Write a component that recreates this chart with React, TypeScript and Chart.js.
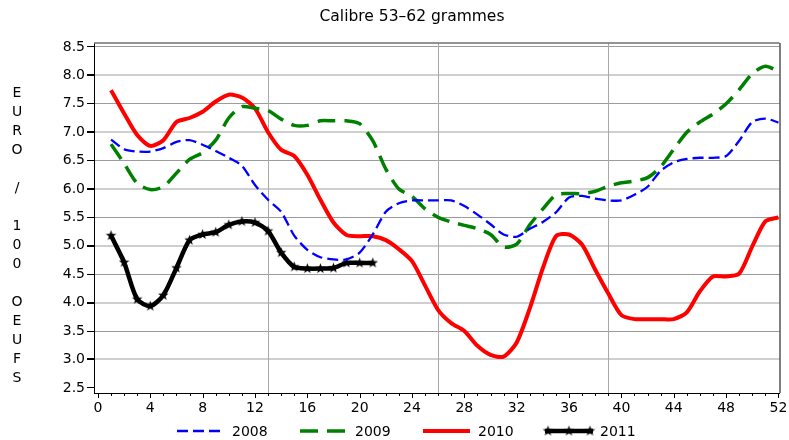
import React, { useEffect, useRef } from 'react';
import { Chart, registerables } from 'chart.js';

Chart.register(...registerables);

const TITLE = 'Calibre 53\u201362 grammes';
const Y_LABEL = ['E', 'U', 'R', 'O', '', '/', '', '1', '0', '0', '', 'O', 'E', 'U', 'F', 'S'];

const weeks = [
  1, 2, 3, 4, 5, 6, 7, 8, 9, 10, 11, 12, 13, 14, 15, 16, 17, 18, 19, 20, 21, 22, 23, 24, 25, 26,
  27, 28, 29, 30, 31, 32, 33, 34, 35, 36, 37, 38, 39, 40, 41, 42, 43, 44, 45, 46, 47, 48, 49, 50, 51, 52,
];

const s2008 = [
  6.87, 6.7, 6.66, 6.66, 6.72, 6.83, 6.86, 6.78, 6.67, 6.55, 6.41, 6.07, 5.81, 5.6, 5.18, 4.93, 4.8, 4.76,
  4.76, 4.88, 5.2, 5.6, 5.75, 5.8, 5.8, 5.8, 5.8, 5.7, 5.55, 5.38, 5.2, 5.16, 5.3, 5.42, 5.59, 5.85, 5.88,
  5.83, 5.8, 5.8, 5.9, 6.04, 6.32, 6.47, 6.53, 6.55, 6.55, 6.58, 6.85, 7.18, 7.24, 7.17,
];
const s2009 = [
  6.79, 6.45, 6.1, 5.99, 6.04, 6.28, 6.52, 6.64, 6.86, 7.25, 7.45, 7.42, 7.38, 7.23, 7.12, 7.12, 7.2, 7.2,
  7.2, 7.15, 6.85, 6.35, 6.0, 5.87, 5.65, 5.5, 5.42, 5.36, 5.3, 5.2, 4.98, 5.03, 5.37, 5.65, 5.9, 5.92,
  5.92, 5.96, 6.05, 6.11, 6.14, 6.2, 6.39, 6.7, 7.0, 7.18, 7.32, 7.5, 7.75, 8.03, 8.16, 8.07,
];
const s2010 = [
  7.74, 7.33, 6.95, 6.76, 6.86, 7.18, 7.25, 7.36, 7.54, 7.66, 7.61, 7.42, 7.0, 6.69, 6.58, 6.25, 5.81, 5.41,
  5.19, 5.17, 5.17, 5.1, 4.94, 4.73, 4.3, 3.87, 3.64, 3.5, 3.24, 3.08, 3.05, 3.3, 3.9, 4.61, 5.17, 5.2, 5.02,
  4.58, 4.16, 3.78, 3.71, 3.71, 3.71, 3.71, 3.83, 4.2, 4.46, 4.46, 4.51, 4.99, 5.43, 5.5,
];
const s2011 = [
  5.18, 4.71, 4.06, 3.94, 4.13, 4.61, 5.1, 5.2, 5.24, 5.37, 5.43, 5.41, 5.26, 4.88, 4.63, 4.6, 4.6, 4.61,
  4.7, 4.7, 4.7,
];

const xTickLabels = [0, 4, 8, 12, 16, 20, 24, 28, 32, 36, 40, 44, 48, 52];
const xMinorTicks = [
  0, 1, 2, 3, 4, 5, 6, 7, 8, 9, 10, 11, 12, 13, 14, 15, 16, 17, 18, 19, 20, 21, 22, 23, 24, 25, 26, 27,
  28, 29, 30, 31, 32, 33, 34, 35, 36, 37, 38, 39, 40, 41, 42, 43, 44, 45, 46, 47, 48, 49, 50, 51, 52,
];
const xGridLines = [13, 26, 39];
const yTickLabels = [2.5, 3.0, 3.5, 4.0, 4.5, 5.0, 5.5, 6.0, 6.5, 7.0, 7.5, 8.0, 8.5];

const FONT = '"DejaVu Sans", sans-serif';

function makeStar(r: number, color: string): HTMLCanvasElement {
  const s = Math.ceil(r * 2 + 2);
  const c = document.createElement('canvas');
  c.width = s;
  c.height = s;
  const g = c.getContext('2d')!;
  g.fillStyle = color;
  g.beginPath();
  for (let i = 0; i < 10; i++) {
    const ang = -Math.PI / 2 + (i * Math.PI) / 5;
    const rr = i % 2 === 0 ? r : r * 0.42;
    g.lineTo(s / 2 + rr * Math.cos(ang), s / 2 + rr * Math.sin(ang));
  }
  g.closePath();
  g.fill();
  return c;
}

const series = [
  { label: '2008', data: s2008, color: '#0000ff', width: 2.3, dash: [11, 5], star: false },
  { label: '2009', data: s2009, color: '#008000', width: 3.5, dash: [18, 9], star: false },
  { label: '2010', data: s2010, color: '#ff0000', width: 4, dash: [] as number[], star: false },
  { label: '2011', data: s2011, color: '#000000', width: 4.5, dash: [] as number[], star: true },
];

export default function App() {
  const ref = useRef<HTMLCanvasElement | null>(null);

  useEffect(() => {
    if (!ref.current) return;
    const star = makeStar(5.5, '#000000');

    const decor = {
      id: 'decor',
      beforeDatasetsDraw(chart: any) {
        const { ctx, chartArea: a, scales } = chart;
        const x = scales.x;
        ctx.save();
        ctx.strokeStyle = '#a8a8a8';
        ctx.lineWidth = 1;
        for (const v of xGridLines) {
          const px = Math.round(x.getPixelForValue(v)) + 0.5;
          ctx.beginPath();
          ctx.moveTo(px, a.top);
          ctx.lineTo(px, a.bottom);
          ctx.stroke();
        }
        ctx.restore();
      },
      afterDraw(chart: any) {
        const { ctx, chartArea: a, scales } = chart;
        const x = scales.x;
        ctx.save();
        // frame top & right
        ctx.strokeStyle = '#707070';
        ctx.lineWidth = 1.5;
        ctx.beginPath();
        ctx.moveTo(a.left, a.top);
        ctx.lineTo(a.right, a.top);
        ctx.stroke();
        ctx.strokeStyle = '#000';
        ctx.lineWidth = 1;
        ctx.beginPath();
        ctx.moveTo(a.right + 0.5, a.top);
        ctx.lineTo(a.right + 0.5, a.bottom);
        ctx.stroke();
        // x ticks
        for (const v of xMinorTicks) {
          const px = Math.round(x.getPixelForValue(v)) + 0.5;
          const len = v % 4 === 0 ? 5 : 3;
          ctx.beginPath();
          ctx.moveTo(px, a.bottom);
          ctx.lineTo(px, a.bottom + len);
          ctx.stroke();
        }
        // title
        ctx.fillStyle = '#000';
        ctx.font = `15.5px ${FONT}`;
        ctx.textAlign = 'center';
        ctx.textBaseline = 'middle';
        ctx.fillText(TITLE, 412, 17);
        ctx.font = `14px ${FONT}`;
        // y label
        Y_LABEL.forEach((ch, i) => {
          if (ch) ctx.fillText(ch, 17, 93 + i * 19);
        });
        // legend
        const legendPos = [
          { x0: 177, x1: 223, tx: 232 },
          { x0: 300, x1: 345, tx: 355 },
          { x0: 423, x1: 470, tx: 478 },
          { x0: 545, x1: 593, tx: 600 },
        ];
        const ly = 431;
        series.forEach((s, i) => {
          const p = legendPos[i];
          ctx.strokeStyle = s.color;
          ctx.lineWidth = s.width;
          ctx.setLineDash(s.dash);
          ctx.beginPath();
          ctx.moveTo(p.x0, ly);
          ctx.lineTo(p.x1, ly);
          ctx.stroke();
          ctx.setLineDash([]);
          if (s.star) {
            for (const sx of [p.x0 + 3, (p.x0 + p.x1) / 2, p.x1 - 3]) {
              ctx.drawImage(star, sx - star.width / 2, ly - star.height / 2);
            }
          }
          ctx.fillStyle = '#000';
          ctx.textAlign = 'left';
          ctx.fillText(s.label, p.tx, ly + 1);
        });
        ctx.restore();
      },
    };

    const isInt = (c: any) => c.tick && Math.abs(c.tick.value % 1) < 1e-6;
    const isBottom = (c: any) => c.tick && Math.abs(c.tick.value - 2.5) < 1e-6;

    const chart = new Chart(ref.current, {
      type: 'line',
      data: {
        datasets: series.map((s) => ({
          label: s.label,
          data: s.data.map((v, i) => ({ x: weeks[i], y: v })),
          borderColor: s.color,
          backgroundColor: s.color,
          borderWidth: s.width,
          borderDash: s.dash,
          tension: 0.25,
          fill: false,
          pointRadius: s.star ? 5 : 0,
          pointStyle: s.star ? (star as any) : 'circle',
          pointHoverRadius: 0,
        })),
      },
      options: {
        responsive: false,
        animation: false,
        events: [],
        layout: { padding: { top: 43, right: 9, bottom: 22, left: 0 } },
        plugins: {
          legend: { display: false },
          title: { display: false },
          tooltip: { enabled: false },
        },
        scales: {
          x: {
            type: 'linear',
            min: -0.3,
            max: 52.08,
            afterBuildTicks: (s: any) => {
              s.ticks = xTickLabels.map((v) => ({ value: v }));
            },
            afterFit: (s: any) => {
              s.height = 25;
              s.paddingLeft = 0;
              s.paddingRight = 0;
            },
            grid: { display: false, drawTicks: false },
            border: { display: true, color: '#000', width: 1 },
            ticks: {
              autoSkip: false,
              maxRotation: 0,
              padding: 7,
              color: '#000',
              font: { family: FONT, size: 14 },
              callback: (v: any) => String(v),
            },
          },
          y: {
            type: 'linear',
            min: 2.41,
            max: 8.57,
            afterBuildTicks: (s: any) => {
              s.ticks = yTickLabels.map((v) => ({ value: v }));
            },
            afterFit: (s: any) => {
              s.width = 94;
              s.paddingTop = 0;
              s.paddingBottom = 0;
            },
            grid: {
              drawTicks: true,
              tickLength: 7,
              tickColor: '#000',
              color: (c: any) => (isBottom(c) ? 'rgba(0,0,0,0)' : isInt(c) ? '#cfcfcf' : '#9c9c9c'),
              lineWidth: (c: any) => (isInt(c) ? 2 : 1),
            },
            border: { display: true, color: '#000', width: 1 },
            ticks: {
              padding: 2,
              color: '#000',
              font: { family: FONT, size: 14 },
              callback: (v: any) => Number(v).toFixed(1),
            },
          },
        },
      },
      plugins: [decor],
    });

    return () => chart.destroy();
  }, []);

  return (
    <div style={{ position: 'fixed', left: 0, top: 0, width: 789, height: 440, background: '#fff' }}>
      <canvas ref={ref} width={789} height={440} style={{ display: 'block' }} />
    </div>
  );
}
